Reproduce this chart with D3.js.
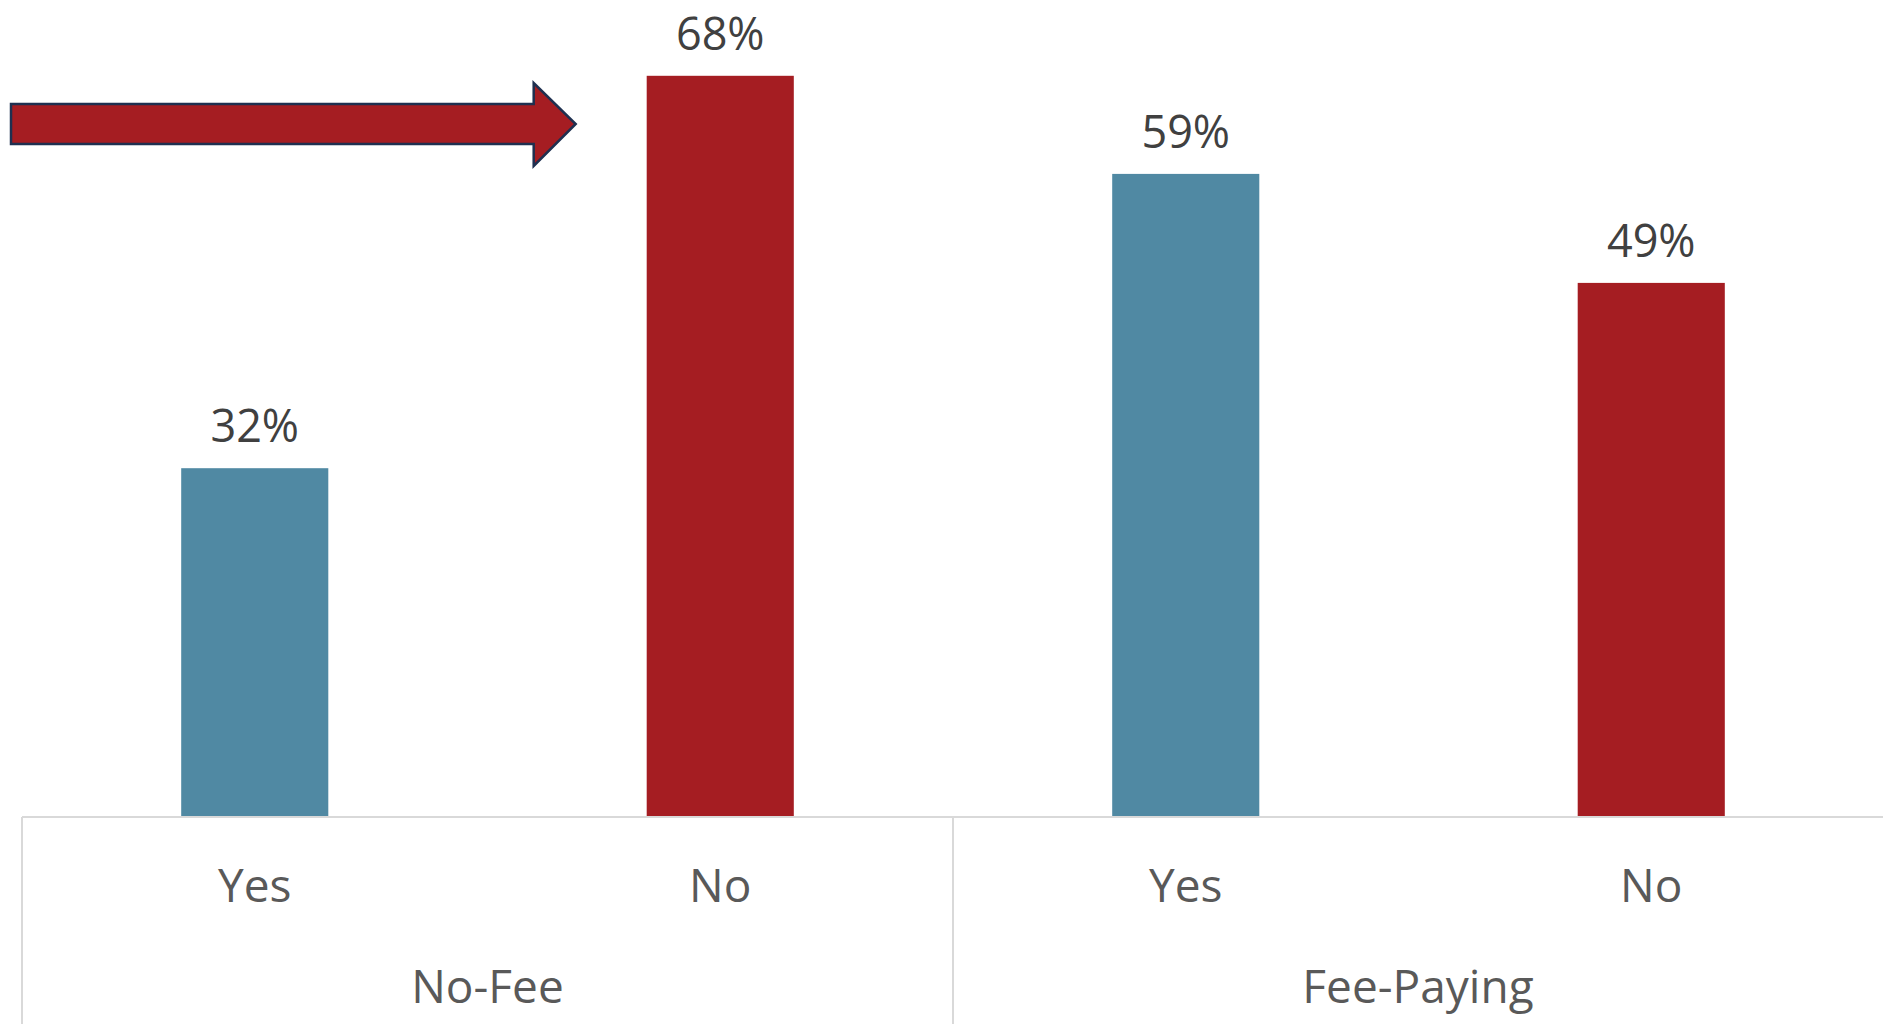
<!DOCTYPE html>
<html>
<head>
<meta charset="utf-8">
<script src="https://cdn.jsdelivr.net/npm/d3@7"></script>
<style>
  body { margin: 0; background: #fff; }
  svg { display: block; font-family: "Open Sans", sans-serif; }
</style>
</head>
<body>
<div id="chart"></div>
<script>
// data
var groups = ["No-Fee", "Fee-Paying"];
var answers = ["Yes", "No", "Yes", "No"];
var groupOf = [0, 0, 1, 1];
var values = [0.32, 0.68, 0.59, 0.49];

var width = 1883,
    height = 1024,
    baseY = 817,
    left = 22;

var colors = { "Yes": "#5089A3", "No": "#A51D22" };

var svg = d3.select("#chart").append("svg")
  .attr("width", width)
  .attr("height", height);

var x = d3.scaleBand()
  .domain(d3.range(values.length))
  .range([left, width + 1])
  .paddingInner(0.684)
  .paddingOuter(0.342);

var y = d3.scaleLinear()
  .domain([0, 0.8])
  .range([baseY, baseY - 872]);

// bars
svg.selectAll(".bar")
  .data(values)
  .enter().append("rect")
  .attr("class", "bar")
  .attr("x", function(d, i) { return x(i); })
  .attr("y", function(d) { return y(d); })
  .attr("width", x.bandwidth())
  .attr("height", function(d) { return baseY - y(d); })
  .style("fill", function(d, i) { return colors[answers[i]]; });

// data labels
svg.selectAll(".lbl")
  .data(values)
  .enter().append("text")
  .attr("class", "lbl")
  .attr("x", function(d, i) { return x(i) + x.bandwidth() / 2; })
  .attr("y", function(d) { return y(d) - 26; })
  .attr("text-anchor", "middle")
  .attr("font-size", 45)
  .attr("fill", "#404040")
  .text(function(d) { return Math.round(d * 100) + "%"; });

// axis lines (two-level category axis)
var step = x.step();
var grpEdges = [left, left + 2 * step, width];
svg.append("line")
  .attr("x1", left).attr("x2", width)
  .attr("y1", baseY).attr("y2", baseY)
  .attr("stroke", "#D9D9D9").attr("stroke-width", 2);

svg.selectAll(".gtick")
  .data(grpEdges.slice(0, 2))
  .enter().append("line")
  .attr("x1", function(d) { return d; })
  .attr("x2", function(d) { return d; })
  .attr("y1", baseY).attr("y2", height)
  .attr("stroke", "#D9D9D9").attr("stroke-width", 2);

// inner category labels
svg.selectAll(".cat")
  .data(answers)
  .enter().append("text")
  .attr("class", "cat")
  .attr("x", function(d, i) { return x(i) + x.bandwidth() / 2; })
  .attr("y", 902)
  .attr("text-anchor", "middle")
  .attr("font-size", 46)
  .attr("fill", "#595959")
  .text(function(d) { return d; });

// group labels
svg.selectAll(".grp")
  .data(groups)
  .enter().append("text")
  .attr("class", "grp")
  .attr("x", function(d, i) { return (grpEdges[i] + grpEdges[i + 1]) / 2; })
  .attr("y", 1003)
  .attr("text-anchor", "middle")
  .attr("font-size", 46)
  .attr("fill", "#595959")
  .text(function(d) { return d; });

// arrow annotation pointing at the No-Fee "No" bar
var tipX = x(1) - 71, tipY = 124;
var arrowPts = [
  [11, 104], [tipX - 42, 104], [tipX - 42, 83], [tipX, tipY],
  [tipX - 42, 166], [tipX - 42, 144], [11, 144]
];
svg.append("path")
  .attr("d", d3.line()(arrowPts) + "Z")
  .style("fill", "#A51D22")
  .attr("stroke", "#1F3050")
  .attr("stroke-width", 2.5)
  .attr("stroke-linejoin", "miter");
</script>
</body>
</html>
